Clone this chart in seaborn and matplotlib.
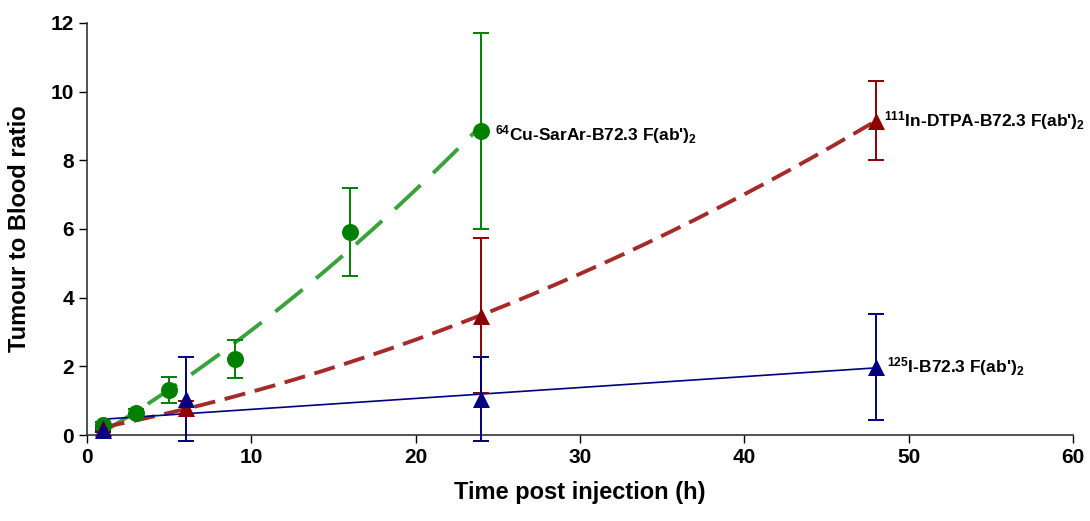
import numpy as np
import pandas as pd
import matplotlib
matplotlib.use("Agg")
import matplotlib.pyplot as plt
import seaborn as sns

# ---- data ----
cu_time = [1, 3, 5, 9, 16, 24]
cu_ratio = [0.29, 0.64, 1.30, 2.21, 5.91, 8.86]
cu_err = [0.10, 0.12, 0.38, 0.55, 1.27, 2.85]

in_time = [1, 6, 24, 48]
in_ratio = [0.20, 0.80, 3.48, 9.15]
in_err = [0.08, 0.20, 2.25, 1.15]

i_time = [1, 6, 24, 48]
i_ratio = [0.15, 1.05, 1.05, 1.98]
i_err = [0.05, 1.22, 1.22, 1.55]

labels = [r"$^{64}$Cu-SarAr-B72.3 F(ab')$_2$",
          r"$^{111}$In-DTPA-B72.3 F(ab')$_2$",
          r"$^{125}$I-B72.3 F(ab')$_2$"]

x_ticks = [0, 10, 20, 30, 40, 50, 60]
y_ticks = [0, 2, 4, 6, 8, 10, 12]

sns.set_style("ticks")
plt.rcParams['font.family'] = ['Liberation Sans', 'DejaVu Sans']
plt.rcParams['font.weight'] = 'bold'
plt.rcParams['text.color'] = 'black'
plt.rcParams['axes.labelcolor'] = 'black'
plt.rcParams['xtick.color'] = 'black'
plt.rcParams['ytick.color'] = 'black'
plt.rcParams['mathtext.fontset'] = 'custom'
plt.rcParams['mathtext.rm'] = 'Liberation Sans:bold'
plt.rcParams['mathtext.it'] = 'Liberation Sans:bold'
plt.rcParams['mathtext.bf'] = 'Liberation Sans:bold'
plt.rcParams['mathtext.default'] = 'rm'

fig = plt.figure(figsize=(10.9, 5.21), dpi=100)
ax = fig.add_axes([0.0798, 0.165, 0.9046, 0.791])

series = [
    (cu_time, cu_ratio, cu_err, "#008000", "#3aa23a", "o", 2, (9, 4.5)),
    (in_time, in_ratio, in_err, "#8b0000", "#a52a2a", "^", 2, (5.5, 2.5)),
    (i_time, i_ratio, i_err, "#000080", "#000080", "^", 1, None),
]

for t, r, e, mc, lc, mk, deg, dash in series:
    t = np.array(t, float)
    r = np.array(r, float)
    coef = np.polyfit(t, r, deg)
    tt = np.linspace(t.min(), t.max(), 200)
    fit = pd.DataFrame({"t": tt, "y": np.polyval(coef, tt)})
    if dash is None:
        sns.lineplot(data=fit, x="t", y="y", color=lc, lw=1.2, ax=ax, zorder=3)
    else:
        l = sns.lineplot(data=fit, x="t", y="y", color=lc, lw=2.8, ax=ax, zorder=2)
        l.lines[-1].set_dashes(dash)
    eb = ax.errorbar(t, r, yerr=e, fmt="none", ecolor=mc, elinewidth=1.4,
                     capsize=5.5, capthick=1.4, zorder=4)
    for art in eb.get_children():
        art.set_clip_on(False)
    sns.scatterplot(x=t, y=r, marker=mk, s=150, color=mc, edgecolor=mc,
                    linewidth=0, ax=ax, zorder=5, clip_on=False)

ax.text(24.8, 8.75, labels[0], fontsize=12.5, fontweight='bold', va='center', ha='left')
ax.text(48.5, 9.15, labels[1], fontsize=12.5, fontweight='bold', va='center', ha='left')
ax.text(48.7, 1.98, labels[2], fontsize=12.5, fontweight='bold', va='center', ha='left')

ax.set_xlim(0, 60)
ax.set_ylim(0, 12)
ax.set_xticks(x_ticks)
ax.set_yticks(y_ticks)
ax.tick_params(axis='both', labelsize=15, direction='out', length=6, width=1,
               colors='black')
for lab in ax.get_xticklabels() + ax.get_yticklabels():
    lab.set_fontweight('bold')
ax.set_xlabel("Time post injection (h)", fontsize=17, fontweight='bold', labelpad=10)
ax.set_ylabel("Tumour to Blood ratio", fontsize=17, fontweight='bold', labelpad=14)
for s in ['top', 'right']:
    ax.spines[s].set_visible(False)
for s in ['left', 'bottom']:
    ax.spines[s].set_color('#333333')
    ax.spines[s].set_linewidth(1.2)

fig.savefig("out.png", dpi=100)
